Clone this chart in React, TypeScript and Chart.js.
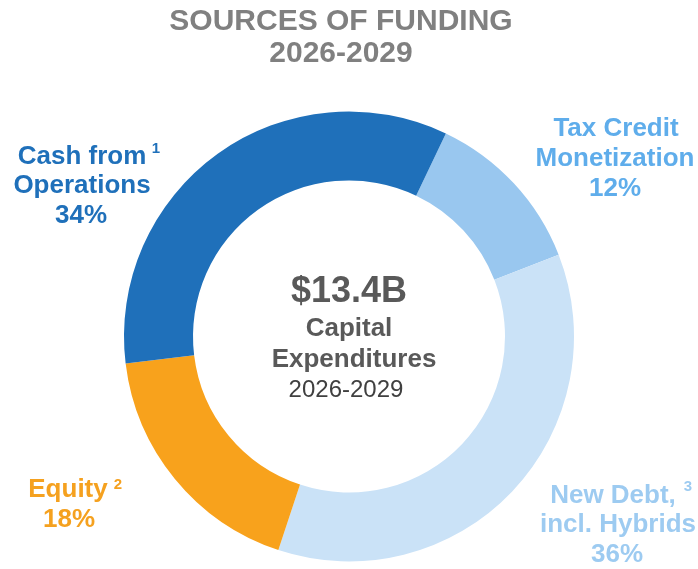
import React, { useEffect, useRef } from "react";
import { Chart, registerables } from "chart.js";

Chart.register(...registerables);

const categories = ["Tax Credit Monetization", "New Debt, incl. Hybrids", "Equity", "Cash from Operations"];
const shares = [12, 36, 18, 34];
const arcColors = ["#99C7EF", "#CAE2F7", "#F8A21C", "#1F70BA"];
const labelColors = ["#5FADEB", "#9DCBF1", "#F5A11F", "#1F70BA"];
const labelLines = [
  ["Tax Credit", "Monetization", "12%"],
  ["New Debt,", "incl. Hybrids", "36%"],
  ["Equity", "18%"],
  ["Cash from", "Operations", "34%"],
];
const footnotes = ["", "3", "2", "1"];
const titleLines = ["SOURCES OF FUNDING", "2026-2029"];
const centerLines = ["$13.4B", "Capital", "Expenditures", "2026-2029"];

const FONT = "'Liberation Sans', Arial, sans-serif";

export default function App() {
  const ref = useRef<HTMLCanvasElement | null>(null);

  useEffect(() => {
    if (!ref.current) return;

    // label layout: [centerX, baselines[], footnote x, footnote baseline]
    const labelLayout: { x: number[]; y: number[]; fx: number; fy: number }[] = [
      { x: [616, 615, 615], y: [136, 166, 196], fx: 0, fy: 0 },
      { x: [613, 618, 617], y: [503, 532, 562], fx: 688, fy: 491 },
      { x: [68, 69], y: [497, 527], fx: 118, fy: 489 },
      { x: [82, 82, 81], y: [164, 193, 223], fx: 156, fy: 153 },
    ];

    const textPlugin = {
      id: "texts",
      afterDraw(chart: any) {
        const ctx = chart.ctx as CanvasRenderingContext2D;
        ctx.save();
        ctx.textAlign = "center";
        ctx.textBaseline = "alphabetic";
        // title
        ctx.fillStyle = "#808080";
        ctx.font = `bold 30px ${FONT}`;
        ctx.fillText(titleLines[0], 341, 30);
        ctx.fillText(titleLines[1], 341, 62);
        // center
        ctx.fillStyle = "#595959";
        ctx.font = `bold 36px ${FONT}`;
        ctx.fillText(centerLines[0], 349, 302);
        ctx.font = `bold 26px ${FONT}`;
        ctx.fillText(centerLines[1], 349, 336);
        ctx.fillText(centerLines[2], 354, 367);
        ctx.fillStyle = "#404040";
        ctx.font = `24px ${FONT}`;
        ctx.fillText(centerLines[3], 346, 397);
        // labels
        labelLines.forEach((lines, i) => {
          const lay = labelLayout[i];
          ctx.fillStyle = labelColors[i];
          ctx.font = `bold 26px ${FONT}`;
          lines.forEach((t, j) => ctx.fillText(t, lay.x[j], lay.y[j]));
          if (footnotes[i]) {
            ctx.font = `bold 15px ${FONT}`;
            ctx.fillText(footnotes[i], lay.fx, lay.fy);
          }
        });
        ctx.restore();
      },
    };

    const chart = new Chart(ref.current, {
      type: "doughnut",
      data: {
        labels: categories,
        datasets: [
          {
            data: shares,
            backgroundColor: arcColors,
            borderWidth: 0,
          },
        ],
      },
      options: {
        animation: false,
        responsive: false,
        devicePixelRatio: 1,
        rotation: 25.5,
        cutout: 156,
        layout: { padding: { left: 124, right: 124, top: 111.5, bottom: 7.5 } },
        plugins: {
          legend: { display: false },
          tooltip: { enabled: false },
          title: { display: false },
        },
      },
      plugins: [textPlugin],
    });
    return () => chart.destroy();
  }, []);

  return (
    <div style={{ position: "absolute", left: 0, top: 0, width: 698, height: 569, background: "#fff" }}>
      <canvas ref={ref} width={698} height={569} style={{ display: "block" }} />
    </div>
  );
}
